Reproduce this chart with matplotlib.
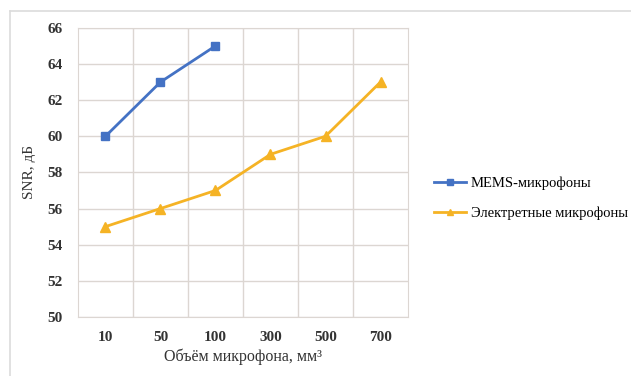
import matplotlib.pyplot as plt
from matplotlib.lines import Line2D

volumes = ['10', '50', '100', '300', '500', '700']
mems_snr = [60, 63, 65]
electret_snr = [55, 56, 57, 59, 60, 63]

plt.rcParams['font.family'] = ['Liberation Serif', 'DejaVu Serif']

fig = plt.figure(figsize=(6.31, 3.76), dpi=100)
ax = fig.add_axes([0.1236, 0.157, 0.523, 0.769])

# outer chart frame (top and left edges only are inside the picture)
fig.add_artist(Line2D([10 / 631, 1], [1 - 11 / 376] * 2, color='#dcdcdc', lw=1.2))
fig.add_artist(Line2D([10 / 631] * 2, [0, 1 - 11 / 376], color='#dcdcdc', lw=1.2))

x = range(len(volumes))
ax.plot(x[:len(mems_snr)], mems_snr, color='#4472C4', marker='s', markersize=6,
        lw=2, label='MEMS-микрофоны')
ax.plot(x, electret_snr, color='#F5B325', marker='^', markersize=7,
        lw=2, label='Электретные микрофоны')

ax.set_xlim(-0.5, len(volumes) - 0.5)
ax.set_ylim(50, 66)
ax.set_yticks(range(50, 67, 2))
ax.set_xticks(list(x))
ax.set_xticklabels(volumes, fontsize=11, fontweight='bold', color='#333333')
ax.tick_params(axis='y', labelsize=11, colors='#333333', length=0, pad=11)
ax.tick_params(axis='x', length=0, pad=10)
for lab in ax.get_yticklabels():
    lab.set_fontweight('bold')

# category gridlines between ticks, like an Excel chart
ax.set_xticks([i + 0.5 for i in range(len(volumes) - 1)], minor=True)
ax.tick_params(axis='x', which='minor', length=0)
ax.grid(which='minor', axis='x', color='#dcd6d2', lw=1)
ax.grid(which='major', axis='y', color='#dcd6d2', lw=1)
ax.set_axisbelow(True)
for s in ax.spines.values():
    s.set_color('#dcd6d2')

ax.set_ylabel('SNR, дБ', fontsize=11, color='#333333', labelpad=8)
ax.set_xlabel('Объём микрофона, мм³', fontsize=11.5, color='#333333', labelpad=3)

ax.legend(loc='center left', bbox_to_anchor=(1.04, 0.41), frameon=False,
          fontsize=10.5, handlelength=2.2, labelspacing=1.1, handletextpad=0.3,
          markerscale=0.7)

plt.savefig('out.png', dpi=100)
plt.close()
